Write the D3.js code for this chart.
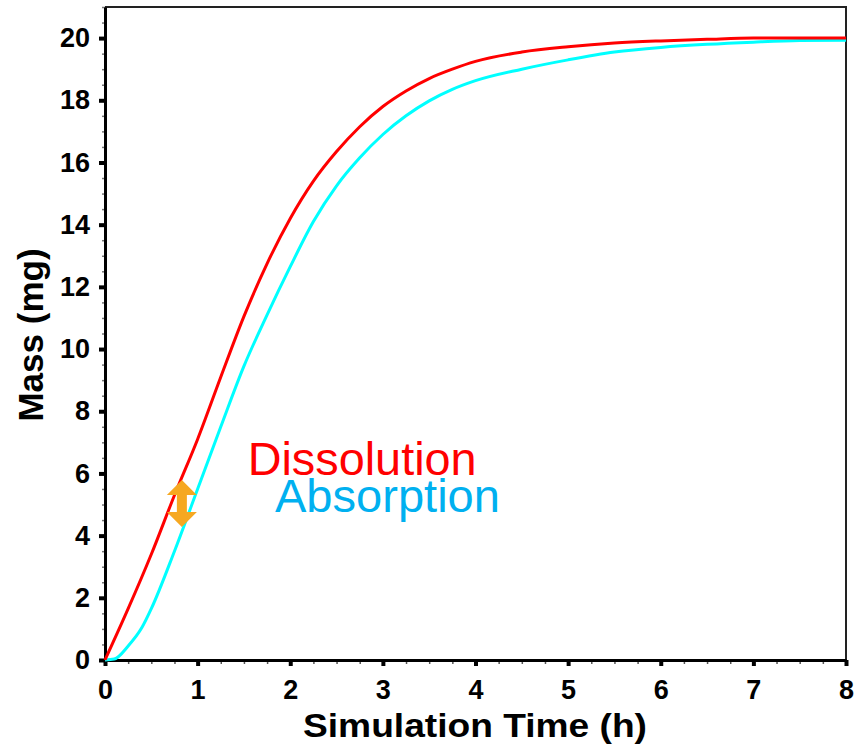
<!DOCTYPE html>
<html>
<head>
<meta charset="utf-8">
<script src="https://cdn.jsdelivr.net/npm/d3@7"></script>
<style>
  body { margin: 0; background: #fff; }
  svg { display: block; font-family: "Liberation Sans", Arial, sans-serif; }
</style>
</head>
<body>
<svg id="root"></svg>
<script>
// Dissolution curve (red)
const dissTime = [0, 0.25, 0.5, 0.75, 1.0, 1.25, 1.5, 1.75, 2.0, 2.25, 2.5, 2.75, 3.0, 3.25, 3.5, 3.75, 4.0, 4.5, 5.0, 5.5, 6.0, 6.5, 7.0, 8.0]
const dissMass = [0, 1.65, 3.4, 5.3, 7.1, 9.1, 11.05, 12.75, 14.2, 15.4, 16.35, 17.15, 17.8, 18.3, 18.7, 19.0, 19.25, 19.55, 19.72, 19.84, 19.91, 19.96, 20.0, 20.0]

// Absorption curve (cyan)
const absTime = [0, 0.1, 0.25, 0.4, 0.5, 0.75, 1.0, 1.25, 1.5, 1.75, 2.0, 2.25, 2.5, 2.75, 3.0, 3.25, 3.5, 3.75, 4.0, 4.5, 5.0, 5.5, 6.0, 6.5, 7.0, 7.5, 8.0]
const absMass = [0, 0.03, 0.45, 1.05, 1.65, 3.5, 5.5, 7.5, 9.45, 11.1, 12.65, 14.1, 15.25, 16.15, 16.9, 17.5, 17.98, 18.35, 18.63, 19.0, 19.3, 19.55, 19.7, 19.8, 19.87, 19.92, 19.93]

const xTicks = [0, 1, 2, 3, 4, 5, 6, 7, 8]
const yTicks = [0, 2, 4, 6, 8, 10, 12, 14, 16, 18, 20]

const W = 860, H = 747
const plot = { left: 105, right: 846, top: 7, bottom: 660 }

const svg = d3.select("#root").attr("width", W).attr("height", H)

let xScale = d3.scaleLinear([0, 8], [plot.left, plot.right])
let yScale = d3.scaleLinear([0, 21], [plot.bottom, plot.top])

// frame (top + right)
svg.append("path")
  .attr("d", `M${plot.left},${plot.top}H${plot.right}V${plot.bottom}`)
  .attr("fill", "none")
  .attr("stroke", "#222")
  .attr("stroke-width", 2)

// minor ticks
const xMinor = d3.range(0, 8.001, 0.25)
const yMinor = d3.range(0, 21.001, 0.5)
svg.append("g")
  .attr("transform", `translate(0,${plot.bottom})`)
  .call(d3.axisBottom(xScale).tickValues(xMinor).tickSize(4).tickFormat(""))
  .call(g => g.select(".domain").remove())
  .call(g => g.selectAll("line").attr("stroke", "#555").attr("stroke-width", 1.5))
svg.append("g")
  .attr("transform", `translate(${plot.left},0)`)
  .call(d3.axisLeft(yScale).tickValues(yMinor).tickSize(3).tickFormat(""))
  .call(g => g.select(".domain").remove())
  .call(g => g.selectAll("line").attr("stroke", "#777").attr("stroke-width", 1.5))

// major axes
let xAxis = d3.axisBottom(xScale).tickValues(xTicks).tickSize(6).tickPadding(14).tickSizeOuter(0)
let yAxis = d3.axisLeft(yScale).tickValues(yTicks).tickSize(6).tickPadding(9).tickSizeOuter(0)

svg.append("g")
  .attr("transform", `translate(0,${plot.bottom})`)
  .call(xAxis)
  .call(g => g.select(".domain").attr("stroke", "#000").attr("stroke-width", 3))
  .call(g => g.selectAll(".tick line").attr("stroke", "#000").attr("stroke-width", 4))
  .call(g => g.selectAll(".tick text").attr("font-size", 27).attr("font-weight", "bold")
    .attr("font-family", "'Liberation Sans', Arial, sans-serif").attr("fill", "#000"))

svg.append("g")
  .attr("transform", `translate(${plot.left},0)`)
  .call(yAxis)
  .call(g => g.select(".domain").attr("stroke", "#000").attr("stroke-width", 3))
  .call(g => g.selectAll(".tick line").attr("stroke", "#000").attr("stroke-width", 4))
  .call(g => g.selectAll(".tick text").attr("font-size", 27).attr("font-weight", "bold")
    .attr("font-family", "'Liberation Sans', Arial, sans-serif").attr("fill", "#000"))

// axis titles
svg.append("text")
  .attr("x", 475)
  .attr("y", 737)
  .attr("text-anchor", "middle")
  .attr("font-size", 33)
  .attr("font-weight", "bold")
  .attr("textLength", 344)
  .attr("lengthAdjust", "spacingAndGlyphs")
  .text("Simulation Time (h)")

svg.append("text")
  .attr("transform", "translate(43,335) rotate(-90)")
  .attr("text-anchor", "middle")
  .attr("font-size", 35)
  .attr("font-weight", "bold")
  .text("Mass (mg)")

// curves
let line = d3.line()
  .x(d => xScale(d[0]))
  .y(d => yScale(d[1]))
  .curve(d3.curveMonotoneX)

svg.append("path")
  .datum(absTime.map((t, i) => [t, absMass[i]]))
  .attr("fill", "none")
  .attr("stroke", "#00ffff")
  .attr("stroke-width", 3)
  .attr("d", line)

svg.append("path")
  .datum(dissTime.map((t, i) => [t, dissMass[i]]))
  .attr("fill", "none")
  .attr("stroke", "#ff0000")
  .attr("stroke-width", 3)
  .attr("d", line)

// labels
svg.append("text")
  .attr("x", xScale(1.54))
  .attr("y", yScale(5.95))
  .attr("font-size", 46)
  .attr("textLength", 229)
  .attr("lengthAdjust", "spacingAndGlyphs")
  .attr("fill", "#ff0000")
  .text("Dissolution")

svg.append("text")
  .attr("x", xScale(1.835))
  .attr("y", yScale(4.76))
  .attr("font-size", 46)
  .attr("textLength", 225)
  .attr("lengthAdjust", "spacingAndGlyphs")
  .attr("fill", "#00b0f0")
  .text("Absorption")

// double arrow between curves
const ax = xScale(0.83), aTop = yScale(5.79), aBot = yScale(4.28)
const hw = 15, sw = 5, hh = 15
svg.append("path")
  .attr("d", `M${ax},${aTop} L${ax + hw},${aTop + hh} L${ax + sw},${aTop + hh} L${ax + sw},${aBot - hh}
    L${ax + hw},${aBot - hh} L${ax},${aBot} L${ax - hw},${aBot - hh} L${ax - sw},${aBot - hh}
    L${ax - sw},${aTop + hh} L${ax - hw},${aTop + hh} Z`)
  .attr("fill", "#f6a821")
</script>
</body>
</html>
